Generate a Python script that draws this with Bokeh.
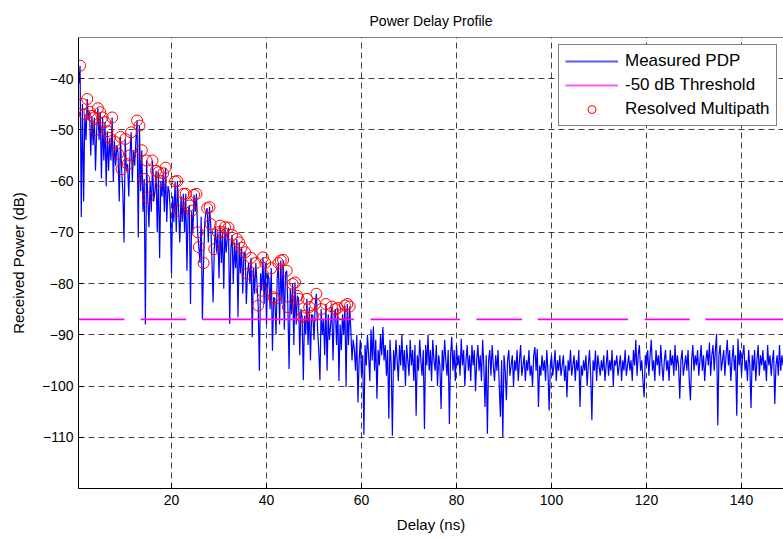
import numpy as np
from bokeh.plotting import figure
from bokeh.models import Range1d, FixedTicker, Legend, LegendItem, Span
from bokeh.embed import file_html
from bokeh.resources import INLINE

# ---------------- data ----------------
delay_start_ns = 0.5
delay_step_ns = 0.25

pdp_db = [
    # 0.5 .. 58.25 ns (multipath region)
    -41, -37.5, -67, -45, -64, -47, -52, -44,
    -48, -46.5, -55, -47.3, -53, -47.6, -58, -50,
    -45.8, -52, -46.6, -59.5, -47.6, -56, -48.5, -61,
    -50.3, -58, -51.6, -56, -47.6, -60, -52.3, -57,
    -53, -54.7, -64, -51.4, -57.7, -62, -72, -51.8,
    -58, -56.7, -63, -55, -50.5, -60, -54, -57,
    -52, -48.2, -71, -49.2, -62, -54, -66, -59.6,
    -88, -56, -63.2, -69, -60, -66, -56, -64,
    -62, -58, -70, -58.3, -75, -60, -63, -58.5,
    -66, -57.4, -68, -61, -62, -66, -78, -63,
    -68, -60.1, -70, -60, -65.8, -72, -63, -68,
    -62.5, -70, -62.5, -77.5, -66, -64.8, -84, -65.8,
    -70, -62.7, -66, -62.5, -70, -72.9, -76, -67,
    -87, -76, -68, -66, -65.3, -72, -65.1, -68.4,
    -75, -83.7, -73.3, -69, -74, -70, -79, -68.7,
    -76, -70, -81, -69, -74, -71, -69.1, -87.9,
    -73, -70.5, -80, -72, -77, -71.3, -86.6, -72,
    -78, -73, -82, -74, -73.9, -84, -78.1, -76,
    -80, -75, -90.5, -77, -82, -76, -80, -84.3,
    -97, -78, -81.4, -74.9, -84, -76, -88, -78,
    -79, -85, -77, -93.1, -82.7, -83, -90, -79,
    -76, -88, -75.5, -84, -75.4, -89, -78, -77.5,
    -84.6, -96.7, -81, -86, -80.1, -92, -79.8, -88,
    -82.4, -83, -94, -85, -86.6, -98.9, -86.3, -90,
    -83, -92, -84.6, -95, -86, -86.3, -91, -84,
    -82, -89, -93, -98.9, -85, -90, -87, -94,
    -84, -97, -86, -91, -88, -84.5, -95, -86,
    -85, -92, -84.8, -99, -88, -93, -86, -90,
    -84.3, -100.2, -84, -92, -84.5, -89, -95, -91,
    # 58.5 .. 150 ns (noise floor)
    -93, -97, -90, -103.2, -95, -91, -98, -94,
    -109.5, -92, -96, -90, -94, -99, -89, -95,
    -88.4, -97, -91, -102.5, -93, -96, -90, -94,
    -88.5, -95, -92, -98, -93, -106.4, -91, -96,
    -109.7, -93, -97, -91, -95, -99, -92, -96,
    -90, -97, -93, -100, -92, -95, -98, -91,
    -96, -93, -99, -92, -105.8, -94, -97, -91,
    -95, -98, -93, -108.4, -92, -96, -90, -97,
    -93, -99, -91, -95, -97, -92, -100, -94,
    -96, -104.5, -93, -97, -91, -95, -98, -93,
    -107.4, -94, -90.4, -97, -93, -99, -92, -96,
    -94, -98, -90.8, -96, -93, -100, -95, -92,
    -97, -94, -99, -92, -96, -93, -101, -95,
    -92, -97, -94, -99, -91, -96, -104.1, -94,
    -109.3, -95, -93, -98, -92, -96, -99, -94,
    -97, -93, -100, -106, -95, -110, -94, -97,
    -102.8, -95, -93, -98, -96, -94, -100, -95,
    -97, -93, -99, -95, -92, -98, -96, -94,
    -99, -95, -97, -93, -98, -96, -100, -94,
    -92.4, -97, -92.8, -104.1, -96, -98, -94, -97,
    -95, -99, -93, -97, -104.8, -96, -94, -98,
    -96, -93, -99, -95, -97, -94, -98, -96,
    -94, -99, -96, -102.2, -95, -97, -93, -98,
    -96, -94, -99, -95, -97, -93, -104.1, -96,
    -98, -95, -97, -94, -100, -96, -93, -98,
    -106.7, -95, -97, -93.1, -99, -94, -96, -98,
    -95, -97, -94, -99, -96, -93, -98, -95,
    -97, -93, -100, -95, -96, -94, -98, -96,
    -94, -99, -95, -97, -93, -98, -96, -94,
    -97, -95, -99, -93, -96, -91, -98, -94,
    -92, -97, -95, -99, -102.2, -94, -96, -93,
    -98, -94, -91, -97, -95, -99, -93, -96,
    -94, -98, -92, -96, -99, -95, -93, -97,
    -95, -99, -93, -96, -94, -98, -92, -97,
    -94, -96, -102.5, -95, -93, -98, -96, -94,
    -97, -93, -99, -102.8, -95, -92, -97, -94,
    -96, -93, -98, -95, -92, -97, -94, -99,
    -95, -93, -96, -91.5, -98, -94, -92, -97,
    -93, -89.8, -107.7, -94, -92, -97, -95, -93,
    -98, -94, -91, -96, -93, -99, -95, -92,
    -97, -94, -105.8, -90.8, -96, -93, -98, -94,
    -92, -97, -95, -99, -93, -96, -104.3, -94,
    -97, -93, -99, -95, -92, -98, -94, -96,
    -93, -97, -95, -99, -92, -96, -94, -98,
    -95, -93, -103.5, -96, -94, -98, -92, -97,
    -94, -96, -93, -98, -95, -97, -94,
]

# sample indices of the resolved multipath components
mp_index = [1, 3, 5, 7, 9, 11, 13, 15, 16, 18, 20, 22, 24, 26, 28, 30, 33, 35, 36, 39,
            41, 43, 44, 49, 51, 53, 55, 57, 58, 62, 65, 67, 69, 71, 73, 81, 83, 84, 88, 90,
            93, 95, 97, 99, 100, 101, 105, 108, 110, 111, 114, 117, 119, 121, 123, 126,
            129, 133, 135, 137, 140, 142, 145, 149, 151, 154, 155, 157, 162, 164, 165,
            168, 170, 172, 175, 176, 180, 182, 184, 185, 188, 190, 192, 194, 197, 199,
            200, 204, 208, 213, 216, 218, 222, 224, 226, 228]

threshold_db = -87.0
thr_seg_start = [0.42, 13.5, 26.5, 61.9, 84.2, 97.1, 119.6, 132.4]
thr_seg_end = [10.1, 23.1, 58.4, 80.7, 93.8, 116.1, 129.1, 150.0]

x_ticks = [20, 40, 60, 80, 100, 120, 140]
y_ticks = [-110, -100, -90, -80, -70, -60, -50, -40]
x_lim = (0.42, 148.84)
y_lim = (-120, -32)

# ---------------- derived ----------------
delay = delay_start_ns + delay_step_ns * np.arange(len(pdp_db))
pdp = np.array(pdp_db, dtype=float)
mp_x = delay[mp_index]
mp_y = pdp[mp_index]

thr_x = []
thr_y = []
for s, e in zip(thr_seg_start, thr_seg_end):
    thr_x += [s, e, np.nan]
    thr_y += [threshold_db, threshold_db, np.nan]

FONT = "Liberation Sans"
BLUE = "#0000FF"
MAGENTA = "#FF00FF"
RED = "#FF0000"

p = figure(width=783, height=539, output_backend="svg", toolbar_location=None,
           x_range=Range1d(*x_lim), y_range=Range1d(*y_lim),
           title="Power Delay Profile",
           min_border_left=78, min_border_right=0, min_border_top=37, min_border_bottom=51)
p.outline_line_color = None
p.background_fill_color = "white"
p.border_fill_color = "white"

p.title.align = "center"
p.title.text_font = FONT
p.title.text_font_size = "14px"
p.title.text_font_style = "normal"
p.title.text_color = "black"
p.title.standoff = 18

for ax in (p.xaxis[0], p.yaxis[0]):
    ax.axis_line_color = "black"
    ax.axis_line_width = 1
    ax.major_tick_in = 5
    ax.major_tick_out = 0
    ax.minor_tick_line_color = None
    ax.major_tick_line_color = "black"
    ax.major_label_text_font = FONT
    ax.major_label_text_font_size = "14px"
    ax.major_label_text_color = "black"
    ax.axis_label_text_font = FONT
    ax.axis_label_text_font_size = "15px"
    ax.axis_label_text_font_style = "normal"
    ax.axis_label_text_color = "black"

p.xaxis.ticker = FixedTicker(ticks=x_ticks)
p.yaxis.ticker = FixedTicker(ticks=y_ticks)
p.xaxis.axis_label = "Delay (ns)"
p.yaxis.axis_label = "Received Power (dB)"
p.xaxis.major_label_standoff = 6
p.xaxis.axis_label_standoff = 8
p.yaxis.major_label_standoff = 5
p.yaxis.axis_label_standoff = 12

# top border of the axes box
p.add_layout(Span(location=y_lim[1], dimension="width", line_color="black", line_width=1))

for g in (p.xgrid[0], p.ygrid[0]):
    g.grid_line_color = "black"
    g.grid_line_alpha = 0.75
    g.grid_line_dash = "6 4"
    g.grid_line_width = 1
p.xgrid.ticker = FixedTicker(ticks=x_ticks)
p.ygrid.ticker = FixedTicker(ticks=y_ticks)

r_pdp = p.line(delay, pdp, line_color=BLUE, line_width=1.2)
r_thr = p.line(thr_x, thr_y, line_color=MAGENTA, line_width=1.6)
r_mp = p.scatter(mp_x, mp_y, marker="circle", size=11, fill_color=None,
                 line_color=RED, line_width=1)

# legend-only glyphs (empty data), drawn a little thicker so the colour survives
leg_pdp = p.line([np.nan], [np.nan], line_color="#5A5AFF", line_width=2)
leg_thr = p.line([np.nan], [np.nan], line_color="#FF5AFF", line_width=2)

legend = Legend(items=[LegendItem(label="Measured PDP", renderers=[leg_pdp]),
                       LegendItem(label="-50 dB Threshold", renderers=[leg_thr]),
                       LegendItem(label="Resolved Multipath", renderers=[r_mp])],
                location=(480, 362))
legend.border_line_color = "black"
legend.border_line_width = 1
legend.background_fill_color = "white"
legend.background_fill_alpha = 1
legend.label_text_font = FONT
legend.label_text_font_size = "17px"
legend.label_text_color = "black"
legend.glyph_width = 53
legend.glyph_height = 20
legend.label_height = 20
legend.label_standoff = 7
legend.spacing = 4
legend.padding = 6
legend.margin = 0
p.add_layout(legend)

open("out.html", "w").write(file_html(p, INLINE))
